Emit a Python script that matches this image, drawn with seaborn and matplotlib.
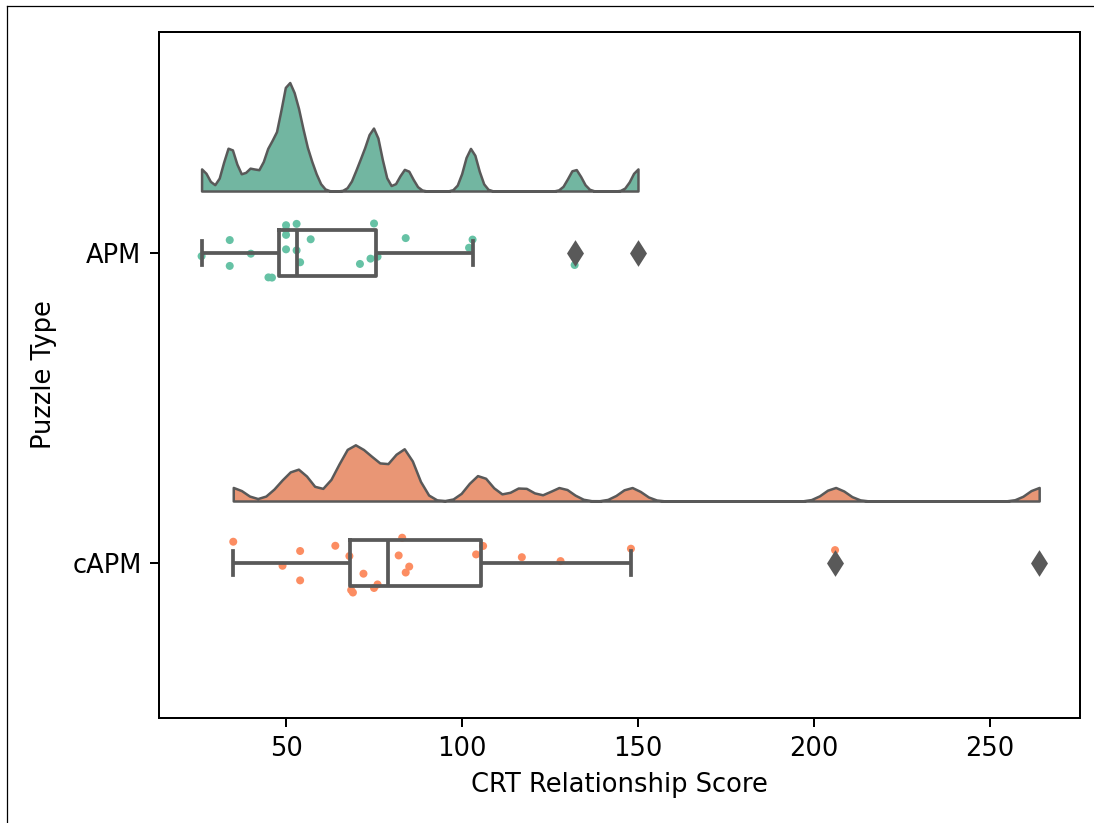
import numpy as np
import pandas as pd
import matplotlib
matplotlib.use("Agg")
import matplotlib.pyplot as plt
import seaborn as sns
from matplotlib.lines import Line2D

# Values (raincloud: half-KDE + box + strip)
puzzle_types = ["APM", "cAPM"]
apm_scores = [26, 34, 34, 40, 45, 46, 50, 50, 50, 50, 53, 53, 54, 57,
              71, 74, 75, 76, 84, 102, 103, 132, 150]
capm_scores = [35, 49, 54, 54, 64, 68, 68.5, 69, 72, 75, 76, 82, 83, 84, 85,
               104, 106, 117, 128, 148, 206, 264]

df = pd.DataFrame({
    "Puzzle Type": ["APM"] * len(apm_scores) + ["cAPM"] * len(capm_scores),
    "CRT Relationship Score": apm_scores + capm_scores,
})

palette = sns.color_palette("Set2", 2)
cloud_colors = [sns.desaturate(c, 0.75) for c in palette]
gray = "#595959"

plt.rcParams["font.size"] = 10.3
fig = plt.figure(figsize=(1094 / 180, 823 / 180), dpi=180)
ax = fig.add_axes([159 / 1094, 1 - 718 / 823, (1080 - 159) / 1094, (718 - 32) / 823])


def kde_curve(vals, factor=0.06, gridsize=100):
    vals = np.asarray(vals, dtype=float)
    bw = factor * vals.std(ddof=1)
    grid = np.linspace(vals.min(), vals.max(), gridsize)
    z = (grid[:, None] - vals[None, :]) / bw
    dens = np.exp(-0.5 * z ** 2).sum(axis=1) / (len(vals) * bw * np.sqrt(2 * np.pi))
    return grid, dens


# strip of raw points
np.random.seed(3)
sns.stripplot(data=df, x="CRT Relationship Score", y="Puzzle Type", hue="Puzzle Type",
              palette=palette, size=3.2, jitter=0.1, linewidth=0, legend=False,
              orient="h", ax=ax, zorder=0.5)

# box
sns.boxplot(data=df, x="CRT Relationship Score", y="Puzzle Type", orient="h",
            width=0.15, fill=False, color=gray, linewidth=1.5,
            flierprops=dict(marker="d", markerfacecolor=gray, markeredgecolor=gray,
                            markersize=6.5),
            ax=ax)

# half-violin clouds, scaled by the overall max density ("area" scaling)
curves = [kde_curve(apm_scores), kde_curve(capm_scores)]
max_dens = max(d.max() for _, d in curves)
for i, (grid, dens) in enumerate(curves):
    base = i - 0.2
    height = dens / max_dens * 0.35
    ax.fill_between(grid, base, base - height, facecolor=cloud_colors[i],
                    edgecolor=gray, linewidth=1.0, zorder=1)

ax.set_xlim(13.9, 275.6)
ax.set_ylim(1.5, -0.713)
ax.set_xlabel("CRT Relationship Score")
ax.set_ylabel("Puzzle Type", labelpad=6)

# screenshot frame lines
fig.add_artist(Line2D([7 / 1094, 7 / 1094], [0, 1 - 6 / 823], transform=fig.transFigure,
                      color="black", linewidth=0.5))
fig.add_artist(Line2D([7 / 1094, 1], [1 - 6 / 823, 1 - 6 / 823], transform=fig.transFigure,
                      color="black", linewidth=0.5))

fig.savefig("out.png", dpi=180)
